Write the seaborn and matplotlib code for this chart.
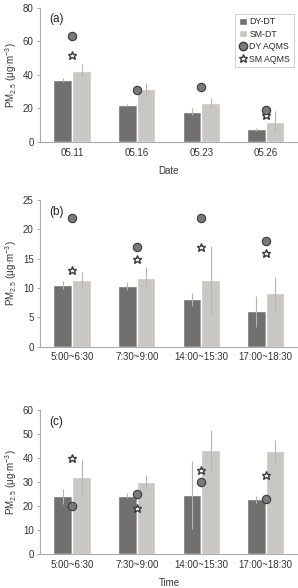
import numpy as np
import pandas as pd
import matplotlib
matplotlib.use("Agg")
import matplotlib.pyplot as plt
from matplotlib.patches import Patch
from matplotlib.lines import Line2D
import seaborn as sns

sns.set_style("white")
plt.rcParams['font.family'] = ['Liberation Sans', 'DejaVu Sans']
plt.rcParams['mathtext.fontset'] = 'custom'
plt.rcParams['mathtext.rm'] = 'Liberation Sans'
plt.rcParams['mathtext.it'] = 'Liberation Sans:italic'

###### data ######
dates = ["05.11", "05.16", "05.23", "05.26"]
times = ["5:00~6:30", "7:30~9:00", "14:00~15:30", "17:00~18:30"]

a_dy = [37, 22, 18, 7.5]
a_dy_err = [1.0, 0.5, 2.0, 1.0]
a_sm = [42.5, 31.5, 23, 12]
a_sm_err = [4.0, 4.0, 3.0, 6.5]
a_dy_aqms = [63, 31, 33, 19]
a_sm_aqms = [52, np.nan, np.nan, 16]

b_dy = [10.5, 10.4, 8.1, 6.0]
b_dy_err = [0.7, 0.7, 1.1, 2.6]
b_sm = [11.3, 11.7, 11.3, 9.1]
b_sm_err = [1.4, 1.8, 5.8, 2.8]
b_dy_aqms = [22, 17, 22, 18]
b_sm_aqms = [13, 15, 17, 16]

c_dy = [24, 24.3, 24.6, 22.8]
c_dy_err = [3.0, 1.0, 14.0, 1.5]
c_sm = [32, 29.8, 43.3, 42.8]
c_sm_err = [7.0, 3.0, 8.5, 4.5]
c_dy_aqms = [20, 25, 30, 23]
c_sm_aqms = [40, 19, 35, 33]

dark = "#707070"
light = "#c9c7c4"
edge = "#3a3a3a"

fig = plt.figure(figsize=(2.98, 5.88), dpi=100)

panels = [
    ("(a)", dates, a_dy, a_dy_err, a_sm, a_sm_err, a_dy_aqms, a_sm_aqms,
     [0.134, 0.7585, 0.866, 0.228], 80, 20, "Date"),
    ("(b)", times, b_dy, b_dy_err, b_sm, b_sm_err, b_dy_aqms, b_sm_aqms,
     [0.134, 0.4104, 0.866, 0.2496], 25, 5, None),
    ("(c)", times, c_dy, c_dy_err, c_sm, c_sm_err, c_dy_aqms, c_sm_aqms,
     [0.134, 0.0578, 0.866, 0.2449], 60, 10, "Time"),
]

for lab, cats, dy, dy_e, sm, sm_e, dy_q, sm_q, pos, ymax, step, xlab in panels:
    ax = fig.add_axes(pos)
    bars = pd.DataFrame({
        "cat": cats * 2,
        "val": dy + sm,
        "err": dy_e + sm_e,
        "site": ["DY-DT"] * 4 + ["SM-DT"] * 4,
    })
    sns.barplot(data=bars, x="cat", y="val", hue="site", order=cats,
                palette=[dark, light], errorbar=None, width=0.58,
                saturation=1, legend=False, ax=ax)
    # error bars on top of each bar
    for cont, errs in zip(ax.containers, [dy_e, sm_e]):
        xs = [p.get_x() + p.get_width() / 2 for p in cont.patches]
        hs = [p.get_height() for p in cont.patches]
        ax.errorbar(xs, hs, yerr=errs, fmt="none", ecolor="#b5b5b5",
                    elinewidth=0.8, capsize=0, zorder=3)

    pts = pd.DataFrame({"cat": cats, "dy": dy_q, "sm": sm_q})
    sm_pts = pts.dropna(subset=["sm"])
    sns.pointplot(data=sm_pts, x="cat", y="sm", order=cats, linestyle="none",
                  marker="*", markersize=6.3, color="white",
                  markeredgecolor=edge, markeredgewidth=1.0, errorbar=None, ax=ax)
    sns.pointplot(data=pts, x="cat", y="dy", order=cats, linestyle="none",
                  marker="o", markersize=6, color="#7a7a7a",
                  markeredgecolor=edge, markeredgewidth=0.8, errorbar=None, ax=ax)

    ax.set_xlim(-0.5, 3.5)
    ax.set_ylim(0, ymax)
    ax.set_yticks(np.arange(0, ymax + 1, step))
    ax.tick_params(axis="both", labelsize=7, colors="#333333", length=2.5, width=0.6, pad=2)
    ax.tick_params(axis="x", length=0, pad=4)
    ax.tick_params(axis="y", left=True, color="#999999")
    for s in ["top", "right"]:
        ax.spines[s].set_visible(False)
    for s in ["left", "bottom"]:
        ax.spines[s].set_color("#aaaaaa")
        ax.spines[s].set_linewidth(0.8)
    ax.set_ylabel("PM$_{2.5}$ (μg·m$^{-3}$)", fontsize=7, color="#333333", labelpad=3)
    if xlab:
        ax.set_xlabel(xlab, fontsize=7, color="#333333", labelpad=6)
    else:
        ax.set_xlabel("")
    ax.text(0.035, 0.96, lab, transform=ax.transAxes, fontsize=8.5,
            color="#222222", va="top", ha="left")

    if lab == "(a)":
        handles = [
            Patch(facecolor=dark, label="DY-DT"),
            Patch(facecolor=light, label="SM-DT"),
            Line2D([], [], linestyle="none", marker="o", markersize=6,
                   markerfacecolor="#7a7a7a", markeredgecolor=edge, label="DY AQMS"),
            Line2D([], [], linestyle="none", marker="*", markersize=6.3,
                   markeredgewidth=1.0,
                   markerfacecolor="white", markeredgecolor=edge, label="SM AQMS"),
        ]
        leg = ax.legend(handles=handles, loc="upper right", fontsize=6.3,
                        frameon=True, fancybox=False, handlelength=0.9,
                        handleheight=0.9, handletextpad=0.3, borderpad=0.4,
                        labelspacing=0.4, bbox_to_anchor=(1.0, 0.99))
        leg.get_frame().set_edgecolor("#bbbbbb")
        leg.get_frame().set_linewidth(0.6)

fig.savefig("out.png", dpi=100)
